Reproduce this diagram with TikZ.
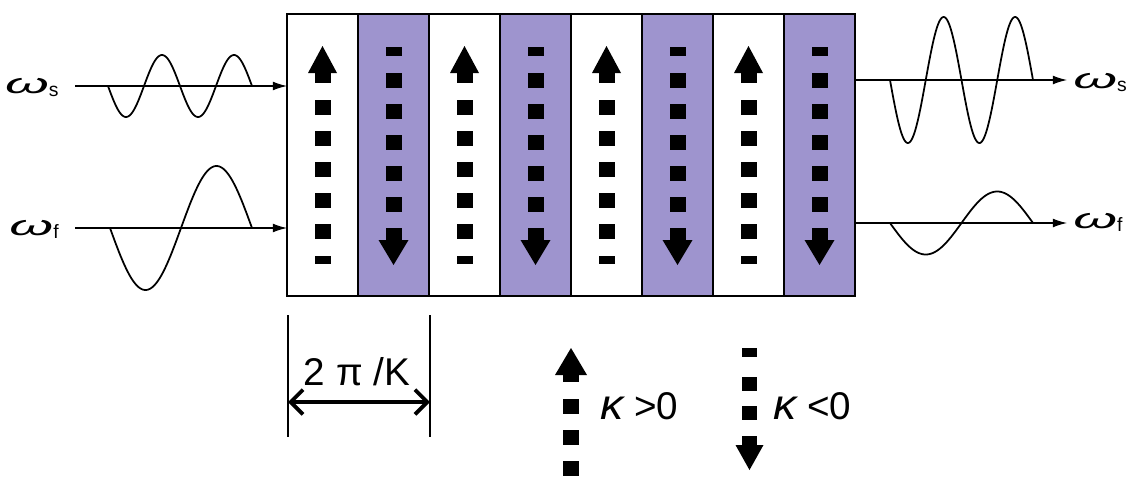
\documentclass[tikz,border=0pt]{standalone}
\usepackage{fontspec}
\setmainfont{Liberation Sans}
\usetikzlibrary{arrows.meta}

\definecolor{lavender}{RGB}{158,148,206}

\begin{document}
\begin{tikzpicture}[
  x=0.02cm, y=-0.02cm,
  band/.style={fill=lavender, draw=black, line width=1.1pt},
  frame/.style={draw, line width=1.3pt, minimum width=11.36cm, minimum height=5.64cm, inner sep=0pt, outer sep=0pt, anchor=north west},
  axis/.style={-{Latex[length=8pt,width=5pt]}, line width=0.7pt},
  wave/.style={line width=1pt},
  wlbl/.style={inner sep=0pt, font=\fontsize{16}{18}\selectfont},
  txt/.style={inner sep=0pt, font=\fontsize{22}{26}\selectfont},
  dim/.style={{Straight Barb[length=7pt,width=14pt]}-{Straight Barb[length=7pt,width=14pt]}, line width=2.2pt},
  tick/.style={line width=0.7pt}
]
\useasboundingbox (0,0) rectangle (1127,477);

% grating stripes
\foreach \i in {1,3,5,7}
  \draw[band] (287+71*\i,14) rectangle ++(71,282);
\node[frame] (slab) at (287,14) {};

% kappa > 0 columns
\foreach \i in {0,2,4,6} {
  \pgfmathsetmacro\c{322.5+71*\i}
  \fill (\c-14.5,73) -- (\c,46) -- (\c+14.5,73) -- cycle;
  \fill (\c-8,73) rectangle (\c+8,83);
  \foreach \t in {100,131,162,193,224}
    \fill (\c-8,\t) rectangle (\c+8,\t+15);
  \fill (\c-8,256) rectangle (\c+8,264);
}
% kappa < 0 columns
\foreach \i in {1,3,5,7} {
  \pgfmathsetmacro\c{322.5+71*\i}
  \fill (\c-8,47) rectangle (\c+8,56);
  \foreach \t in {73,104,135,166,197}
    \fill (\c-8,\t) rectangle (\c+8,\t+15);
  \fill (\c-8,228) rectangle (\c+8,240);
  \fill (\c-15,240) -- (\c,265) -- (\c+15,240) -- cycle;
}

% input waves
\coordinate (sL) at (75,86);
\coordinate (fL) at (75,228);
\draw[axis] (sL) -- (sL -| slab.west);
\draw[axis] (fL) -- (fL -| slab.west);
\draw[wave] plot[domain=108:252, samples=120, smooth] (\x,{86+31*sin((\x-108)*5)});
\draw[wave] plot[domain=110:252, samples=120, smooth] (\x,{228+62*sin((\x-110)/142*360)});
\node[wlbl, anchor=base east] (wsL) at (59,93) {\scalebox{2}[1]{\itshape ω}\raisebox{-2pt}{\fontsize{11}{12}\selectfont s}};
\node[wlbl, anchor=base east] (wfL) at (59,235) {\scalebox{2}[1]{\itshape ω}\raisebox{-2pt}{\fontsize{11}{12}\selectfont f}};

% output waves
\coordinate (sR) at (1067,80);
\coordinate (fR) at (1067,223);
\draw[axis] (sR -| slab.east) -- (sR);
\draw[axis] (fR -| slab.east) -- (fR);
\draw[wave] plot[domain=890:1033, samples=160, smooth] (\x,{80+63*sin((\x-890)/71.5*360)});
\draw[wave] plot[domain=890:1033, samples=120, smooth] (\x,{223+31.5*sin((\x-890)/143*360)});
\node[wlbl, anchor=base west] (wsR) at (1073,88) {\scalebox{2}[1]{\itshape ω}\raisebox{-2pt}{\fontsize{11}{12}\selectfont s}};
\node[wlbl, anchor=base west] (wfR) at (1073,228) {\scalebox{2}[1]{\itshape ω}\raisebox{-2pt}{\fontsize{11}{12}\selectfont f}};

% period
\coordinate (pL) at (288,315);
\coordinate (pR) at (430,315);
\draw[tick] (pL) -- ++(0,122);
\draw[tick] (pR) -- ++(0,122);
\coordinate (aL) at (288,402);
\coordinate (aR) at (430,402);
\draw[dim] (aL) -- (aR);
\node[txt, anchor=base] (period) at (357,385) {2 π /K};

% legend
\fill (555,375) -- (571,348) -- (587,375) -- cycle;
\fill (563,375) rectangle (579,382);
\foreach \t in {399,430,461}
  \fill (563,\t) rectangle (579,\t+15);
\node[txt, anchor=base west] (kpos) at (600,419) {\scalebox{1.2}[1.1]{\itshape κ} >0};

\fill (742,348) rectangle (757,357);
\foreach \t in {377,406}
  \fill (742,\t) rectangle (757,\t+14);
\fill (742,436) rectangle (757,445);
\fill (735.5,445) -- (749.5,470) -- (763.5,445) -- cycle;
\node[txt, anchor=base west] (kneg) at (773,419) {\scalebox{1.2}[1.1]{\itshape κ} <0};
\end{tikzpicture}
\end{document}
